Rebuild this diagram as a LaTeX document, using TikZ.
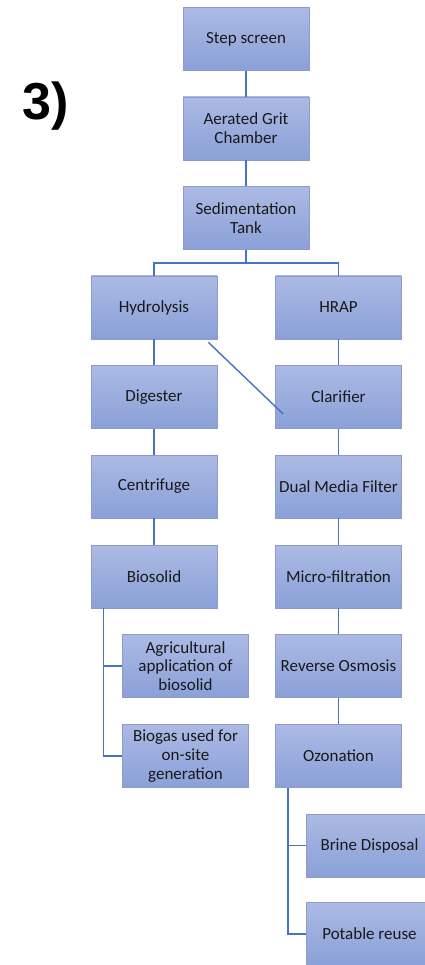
\documentclass[tikz,border=0pt]{standalone}
\usepackage{fontspec}
\setmainfont{Carlito}
\newfontfamily\labelfont{Liberation Sans}
\usetikzlibrary{calc}
\definecolor{boxline}{RGB}{140,155,200}
\definecolor{boxtop}{RGB}{172,186,228}
\definecolor{boxbot}{RGB}{138,160,216}
\definecolor{link}{RGB}{72,114,196}
\definecolor{ink}{RGB}{25,25,25}
\tikzset{
  stage/.style={draw=boxline, line width=0.8pt, top color=boxtop, bottom color=boxbot,
    minimum width=126pt, minimum height=63pt, inner sep=2pt, align=center,
    font=\fontsize{17}{18.7}\selectfont, text=ink},
  link/.style={draw=link, line width=1.4pt}
}
\begin{document}
\begin{tikzpicture}[x=1pt,y=-1pt]
\useasboundingbox (0,0) rectangle (425,965);
\clip (0,0) rectangle (425,965);
\fill[white] (0,0) rectangle (425,965);

\node[font=\labelfont\bfseries\fontsize{52}{56}\selectfont, anchor=center] (tag) at (46,106) {3)};

% main treatment train
\node[stage] (step) at (246,39) {Step screen};
\node[stage] (grit) at (246,128.5) {Aerated Grit\\Chamber};
\node[stage] (sed)  at (246,218) {Sedimentation\\Tank};

% sludge line
\node[stage] (hyd)  at (154,307.5) {Hydrolysis};
\node[stage] (dig)  at (154,397) {Digester};
\node[stage] (cen)  at (154,486.5) {Centrifuge};
\node[stage] (bio)  at (154,576.5) {Biosolid};
\node[stage] (agr)  at (185.5,666) {Agricultural\\application of\\biosolid};
\node[stage] (gas)  at (185.5,756) {Biogas used for\\on-site\\generation};

% water line
\node[stage] (hrap) at (338.5,307.5) {HRAP};
\node[stage] (clar) at (338.5,397) {Clarifier};
\node[stage] (dmf)  at (338.5,486.5) {Dual Media Filter};
\node[stage] (mf)   at (338.5,576.5) {Micro-filtration};
\node[stage] (ro)   at (338.5,666) {Reverse Osmosis};
\node[stage] (ozo)  at (338.5,756) {Ozonation};
\node[stage] (brine) at (369.5,845.5) {Brine Disposal};
\node[stage] (pot)  at (369.5,934) {Potable reuse};

% connectors
\draw[link] (step.south) -- (grit.north);
\draw[link] (grit.south) -- (sed.north);
\coordinate (split) at ($(sed.south)+(0,13)$);
\draw[link] (sed.south) -- (split);
\draw[link] (hyd.north) |- (split) -| (hrap.north);
\draw[link] (hyd.south) -- (dig.north);
\draw[link] (dig.south) -- (cen.north);
\draw[link] (cen.south) -- (bio.north);
\draw[link] (hrap.south) -- (clar.north);
\draw[link] (clar.south) -- (dmf.north);
\draw[link] (dmf.south) -- (mf.north);
\draw[link] (mf.south) -- (ro.north);
\draw[link] (ro.south) -- (ozo.north);

\coordinate (cross0) at ($(hyd.south east)+(-9,3)$);
\coordinate (cross1) at ($(clar.south west)+(8,-15)$);
\draw[link] (cross0) -- (cross1);

\coordinate (bioTrunk) at ($(bio.south west)+(13,0)$);
\draw[link] (bioTrunk) |- (gas.west);
\draw[link] (bioTrunk |- agr.west) -- (agr.west);

\coordinate (ozoTrunk) at ($(ozo.south west)+(13,0)$);
\draw[link] (ozoTrunk) |- (pot.west);
\draw[link] (ozoTrunk |- brine.west) -- (brine.west);
\end{tikzpicture}
\end{document}
